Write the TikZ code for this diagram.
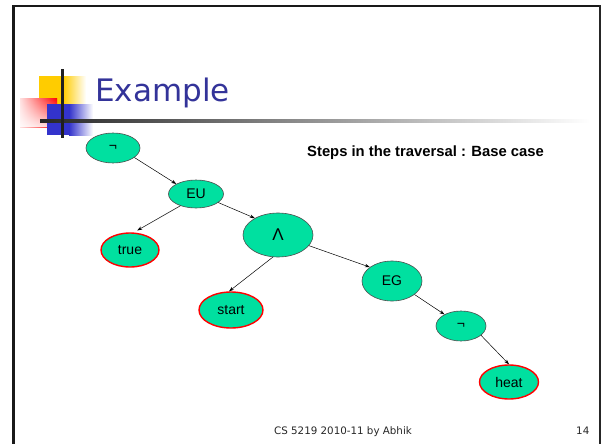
\documentclass[tikz,border=0pt]{standalone}
\usepackage{fontspec}
\setmainfont{Liberation Sans}
\newfontfamily\tahoma{DejaVu Sans}
\usetikzlibrary{shapes.geometric,arrows.meta,fadings}
\definecolor{nodegreen}{RGB}{0,224,160}
\definecolor{titleblue}{RGB}{51,51,153}
\definecolor{sqyellow}{RGB}{255,204,0}
\definecolor{sqblue}{RGB}{51,51,204}
\tikzset{
  opnode/.style={ellipse, fill=nodegreen, draw=black!70, line width=0.6pt, inner sep=0pt,
    font=\fontsize{14}{16}\selectfont},
  leafnode/.style={opnode, draw=red, line width=1.4pt},
  arr/.style={-{Stealth[length=5pt,width=3.5pt]}, line width=0.5pt, black}
}
\begin{document}
\begin{tikzpicture}[x=1pt,y=-1pt]
\useasboundingbox (0,0) rectangle (602,444);
% slide frame
\fill[black!90] (12,5) rectangle (601,7.5);
\fill[black!90] (12,5) rectangle (15,444);
\fill[black!85] (599,5) rectangle (601,444);
% decoration squares
\fill[sqyellow] (39,76) rectangle (63,104);
\shade[left color=sqyellow, right color=white] (63,76) rectangle (86,104);
\shade[left color=red!12!white, right color=red] (20,98) rectangle (57,127);
\fill[white, path fading=north, fill opacity=0.85] (20,98) rectangle (57,127);
\fill[sqblue] (47,104) rectangle (69,135);
\shade[left color=sqblue, right color=white] (69,104) rectangle (93,135);
\shade[left color=black!85, right color=white] (40,119.8) rectangle (590,122.6);
\fill[black!88] (60.8,69) rectangle (63.5,138);
% title
\node[anchor=base west, inner sep=0pt, text=titleblue, font=\tahoma\fontsize{31}{34}\selectfont] (title) at (95,101) {Example};
\node[anchor=base west, inner sep=0pt, font=\bfseries\fontsize{14.8}{17}\selectfont] (steps) at (307,156.5) {Steps in the traversal : Base case};
% tree
\node[opnode, minimum width=54pt, minimum height=30pt] (not1) at (113,148) {¬};
\node[opnode, minimum width=55pt, minimum height=28pt] (eu) at (196,194) {EU};
\node[leafnode, minimum width=58pt, minimum height=34pt] (true) at (130,250) {true};
\node[opnode, minimum width=70pt, minimum height=44pt] (and) at (278,235) {{\fontsize{17}{18}\selectfont Λ}};
\node[leafnode, minimum width=64pt, minimum height=36pt] (start) at (231,310) {start};
\node[opnode, minimum width=60pt, minimum height=40pt] (eg) at (392,281) {EG};
\node[opnode, minimum width=50pt, minimum height=30pt] (not2) at (461,326) {¬};
\node[leafnode, minimum width=59pt, minimum height=34pt] (heat) at (509,382) {heat};
% edges
\draw[arr] (not1.-24) -- (eu.153);
\draw[arr, shorten >=4pt] (eu.217) -- (true.78);
\draw[arr] (eu.-21) -- (and.144);
\draw[arr] (and.257) -- (start.96);
\draw[arr] (and.-19) -- (eg.148);
\draw[arr] (eg.-31) -- (not2.145);
\draw[arr] (not2.-25) -- (heat.90);
% footer
\node[anchor=base west, inner sep=0pt, text=black!85, font=\tahoma\fontsize{10.3}{12}\selectfont] (foot) at (274,434) {CS 5219 2010-11 by Abhik};
\node[anchor=base west, inner sep=0pt, text=black!85, font=\tahoma\fontsize{10.3}{12}\selectfont] (page) at (576,434) {14};
\end{tikzpicture}
\end{document}
